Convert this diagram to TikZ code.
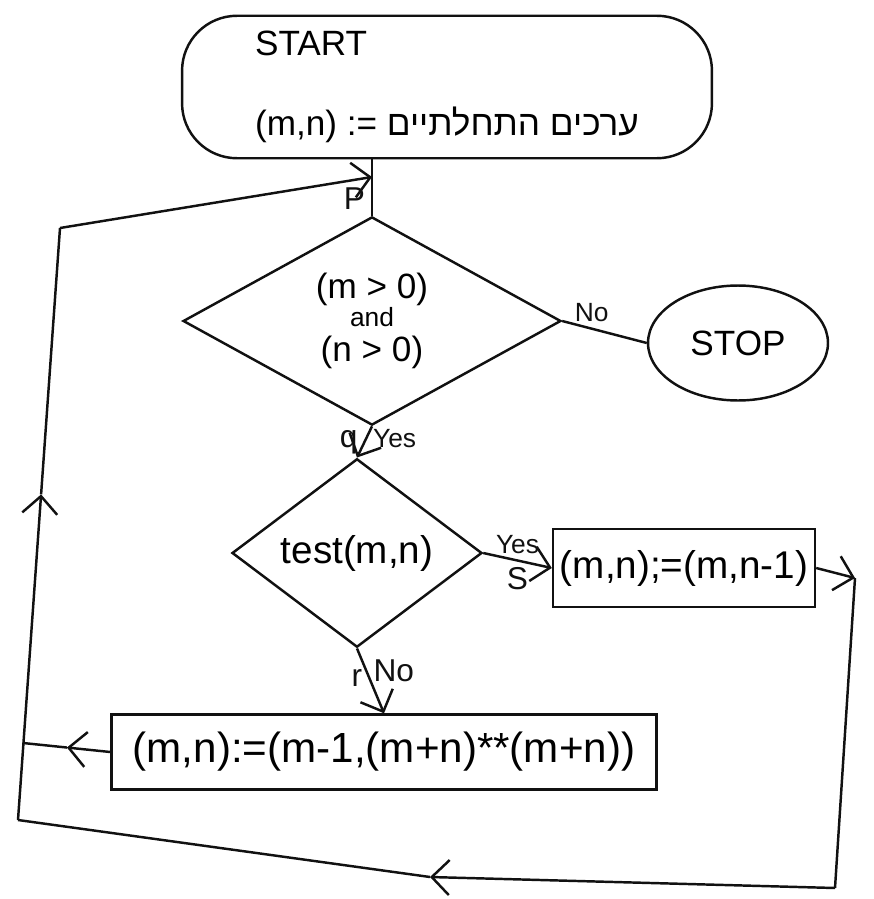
\documentclass[tikz,border=0pt]{standalone}
\usepackage{fontspec}
\setmainfont{Liberation Sans}
\newfontfamily\hebfont[Script=Hebrew]{Liberation Sans}
\TeXXeTstate=1
\usetikzlibrary{arrows.meta,calc,positioning,shapes.geometric}
\definecolor{Ink}{HTML}{111111}
\tikzset{blob/.style={rounded corners=1.1cm,draw=Ink,line width=1.4pt,align=left,font=\fontsize{20}{24}\selectfont},cond/.style={diamond,draw=Ink,line width=1.4pt,inner sep=0pt,align=center,font=\fontsize{20}{22}\selectfont},stopblob/.style={ellipse,draw=Ink,line width=1.4pt,font=\fontsize{20}{24}\selectfont},assign/.style={rectangle,draw=Ink,line width=1.4pt,align=center,inner sep=2pt},line/.style={draw=Ink,line width=1.4pt},flow/.style={line,-{Straight Barb[length=3.5mm,width=7mm]}},lbl/.style={font=\fontsize{18}{20}\selectfont,text=Ink},slbl/.style={font=\fontsize{15}{18}\selectfont,text=Ink}}
\begin{document}
\begin{tikzpicture}[x=0.02cm,y=-0.02cm]
  \useasboundingbox (0,0) rectangle (873,899);
  \node[blob,minimum width=10.6cm,minimum height=2.85cm](start) at (447,87){START\\[0.75cm](m,n) := {\hebfont\beginR ערכים התחלתיים\endR}};
  \node[cond,minimum width=7.56cm,minimum height=3.36cm](positive) at (372,321){(m > 0)\\[-6pt]{\fontsize{15}{16}\selectfont and}\\[-2pt](n > 0)};
  \node[stopblob,minimum width=3.6cm,minimum height=2.3cm](stop) at (738,343){STOP};
  \node[cond,minimum width=5cm,minimum height=3cm,font=\fontsize{22}{24}\selectfont](test) at (357,553){test(m,n)};
  \node[assign,minimum width=5.24cm,minimum height=1.56cm,font=\fontsize{22}{24}\selectfont](dec) at (684,568){(m,n);=(m,n-1)};
  \node[assign,minimum width=10.9cm,minimum height=1.5cm,font=\fontsize{24}{26}\selectfont](pow) at (384,752){(m,n):=(m-1,(m+n)**(m+n))};
  % loop back to P
  \coordinate (tr) at (855,578);
  \coordinate (br) at (835,888);
  \coordinate (bm) at (430,877);
  \coordinate (bl) at (18,820);
  \coordinate (tl) at (60,228);
  \coordinate (pin) at (372,177);
  \coordinate (ml) at ($(bl)!0.13!(tl)$);
  \coordinate (up) at ($(bl)!0.55!(tl)$);
  \coordinate (lm) at ($(pow.west)!0.5!(ml)$);
  \draw[line](positive.north |- start.south)--node[lbl,pos=0.7,left]{P}(positive.north);
  \draw[line](positive.east)--node[slbl,above,pos=0.35]{No}(stop.west);
  \draw[flow](positive.south)--node[lbl,left]{q}node[slbl,right,pos=0.4]{Yes}(test.north);
  \draw[flow](test.east)--node[slbl,above]{Yes}node[lbl,below]{S}(dec.west);
  \draw[flow](test.south)--node[lbl,left,pos=0.45]{r}node[lbl,right,pos=0.35]{No}(pow.north);
  \draw[flow](dec.east)--(tr);
  \draw[line](tr)--(br);
  \draw[flow](br)--(bm);
  \draw[line](bm)--(bl);
  \draw[flow](bl)--(up);
  \draw[line](up)--(tl);
  \draw[flow](tl)--(pin);
  \draw[flow](pow.west)--(lm);
  \draw[line](lm)--(ml);
\end{tikzpicture}
\end{document}
